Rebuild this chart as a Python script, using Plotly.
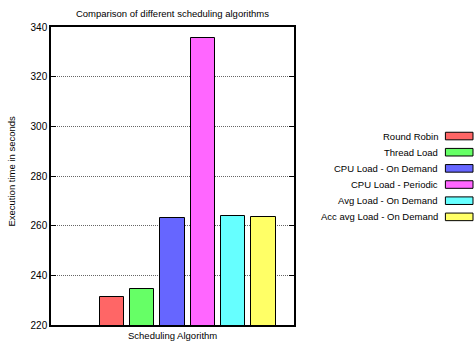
import plotly.graph_objects as go

# Scheduling benchmark results (execution time in seconds)
algorithms = [
    "Round Robin",
    "Thread Load",
    "CPU Load - On Demand",
    "CPU Load - Periodic",
    "Avg Load - On Demand",
    "Acc avg Load - On Demand",
]
exec_times = [231.4, 234.5, 263.1, 335.7, 264.0, 263.4]
colors = ["#ff6666", "#66ff66", "#6666ff", "#ff66ff", "#66ffff", "#ffff66"]
y_ticks = [220, 240, 260, 280, 300, 320, 340]

FONT = "Liberation Sans, Arial, Helvetica, sans-serif"

# plot-area geometry in pixels (used to place the side key and labels)
L, R, T, B = 51.3, 294.3, 26.6, 325.3
PW, PH = R - L, B - T

fig = go.Figure()
for i, (name, val, col) in enumerate(zip(algorithms, exec_times, colors)):
    fig.add_trace(go.Bar(
        x=[i], y=[val], name=name, width=0.8,
        marker=dict(color=col, line=dict(color="black", width=1)),
        showlegend=False,
    ))

# Key drawn to the right: text right-aligned, swatch after it
leg_step = 16.2
for i, (name, col) in enumerate(zip(algorithms, colors)):
    y_px = 135.9 + i * leg_step
    fig.add_annotation(
        xref="paper", yref="paper",
        x=(440.5 - L) / PW, y=1 - (y_px - T) / PH,
        text=name, showarrow=False, xanchor="right", yanchor="middle",
        font=dict(family=FONT, size=9.5, color="black"),
    )
    fig.add_shape(
        type="rect", xref="paper", yref="paper",
        x0=(445.7 - L) / PW, x1=(473.3 - L) / PW,
        y0=1 - (y_px + 3.8 - T) / PH, y1=1 - (y_px - 3.8 - T) / PH,
        fillcolor=col, line=dict(color="black", width=1),
    )

# Axis titles
fig.add_annotation(
    xref="paper", yref="paper", x=(172.5 - L) / PW, y=1 - (335.8 - T) / PH,
    text="Scheduling Algorithm", showarrow=False, xanchor="center", yanchor="middle",
    font=dict(family=FONT, size=9.5, color="black"),
)
fig.add_annotation(
    xref="paper", yref="paper", x=(11.8 - L) / PW, y=1 - (171 - T) / PH,
    text="Execution time in seconds", showarrow=False, textangle=-90,
    xanchor="center", yanchor="middle",
    font=dict(family=FONT, size=9.5, color="black"),
)

fig.update_layout(
    width=474, height=344,
    margin=dict(l=L, r=474 - R, t=T, b=344 - B, autoexpand=False),
    paper_bgcolor="white", plot_bgcolor="white",
    font=dict(family=FONT, size=9.5, color="black"),
    title=dict(text="Comparison of different scheduling algorithms",
               x=172.5 / 474, xanchor="center", y=1 - 13.5 / 344, yanchor="middle",
               font=dict(size=9.5)),
    bargap=0,
)
fig.update_xaxes(
    range=[-2, 6], showticklabels=False, ticks="", showgrid=False,
    showline=True, linecolor="black", linewidth=1.5, mirror=True,
    zeroline=False, automargin=False,
)
fig.update_yaxes(
    range=[220, 340], tickvals=y_ticks,
    ticks="inside", ticklen=5, tickcolor="black", tickwidth=1,
    tickfont=dict(size=10),
    showgrid=True, gridcolor="#666666", griddash="1px,1px", gridwidth=1,
    showline=True, linecolor="black", linewidth=1.5, mirror="ticks",
    zeroline=False, automargin=False,
)

fig.write_html("out.html")
